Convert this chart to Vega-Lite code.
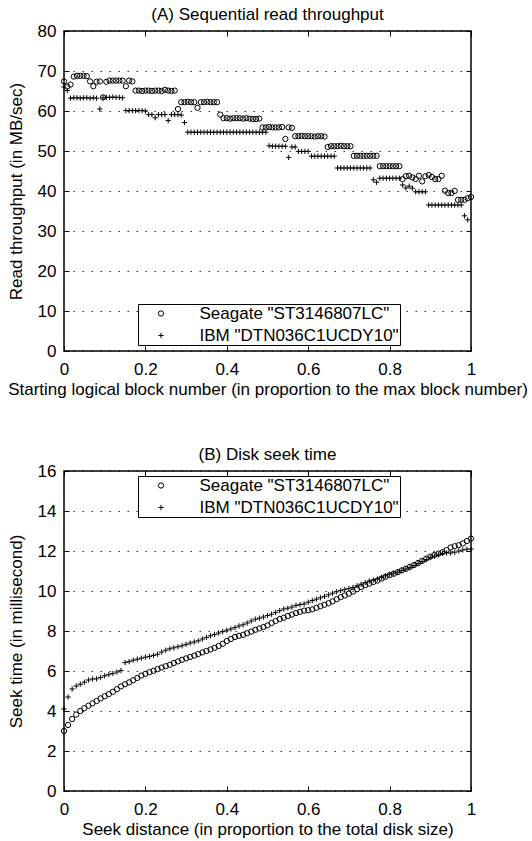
{
  "$schema": "https://vega.github.io/schema/vega-lite/v6.json",
  "background": "white",
  "padding": {"left": 6, "top": 5, "right": 0, "bottom": 0},
  "config": {
    "font": "Liberation Sans",
    "view": {"stroke": "black", "strokeWidth": 1.5},
    "axis": {
      "domain": false, "labelFontSize": 17, "titleFontSize": 17, "titleFontWeight": "normal",
      "labelColor": "black", "titleColor": "black", "tickColor": "black", "tickSize": -5, "tickWidth": 1,
      "labelPadding": 13, "grid": false, "gridColor": "black", "gridDash": [1.5, 7.5], "gridOpacity": 0.8, "labelFlush": false
    },
    "title": {"fontSize": 17, "fontWeight": "normal", "color": "black", "offset": -2, "frame": "group"},
    "legend": {
      "title": null, "orient": "none", "strokeColor": "black", "fillColor": "white", "padding": 1,
      "labelFont": "Liberation Sans", "labelFontSize": 17, "labelColor": "black", "labelLimit": 400, "symbolOffset": 13.5, "labelOffset": 30, "rowPadding": 4,
      "cornerRadius": 0, "symbolStrokeColor": "black", "symbolStrokeWidth": 1, "symbolSize": 28, "symbolFillColor": "transparent"
    }
  },
  "datasets": {
    "a": [
      {"d":"S","x":0,"y":67.4},{"d":"S","x":0.008,"y":66.1},{"d":"S","x":0.016,"y":66.6},{"d":"S","x":0.024,"y":68.6},{"d":"S","x":0.032,"y":68.8},{"d":"S","x":0.04,"y":68.8},{"d":"S","x":0.048,"y":68.8},{"d":"S","x":0.056,"y":68.7},{"d":"S","x":0.064,"y":67.4},{"d":"S","x":0.072,"y":66.2},{"d":"S","x":0.08,"y":67.3},{"d":"S","x":0.088,"y":67.4},{"d":"S","x":0.096,"y":63.4},{"d":"S","x":0.104,"y":67.3},{"d":"S","x":0.112,"y":67.6},{"d":"S","x":0.12,"y":67.6},{"d":"S","x":0.128,"y":67.6},{"d":"S","x":0.136,"y":67.6},{"d":"S","x":0.144,"y":67.6},{"d":"S","x":0.152,"y":66.2},{"d":"S","x":0.16,"y":67.6},{"d":"S","x":0.168,"y":67.4},{"d":"S","x":0.176,"y":65.1},{"d":"S","x":0.184,"y":65.1},{"d":"S","x":0.192,"y":65.0},{"d":"S","x":0.2,"y":65.1},{"d":"S","x":0.208,"y":65.1},{"d":"S","x":0.216,"y":65.0},{"d":"S","x":0.224,"y":65.1},{"d":"S","x":0.232,"y":65.1},{"d":"S","x":0.24,"y":65.0},{"d":"S","x":0.248,"y":65.3},{"d":"S","x":0.256,"y":65.1},{"d":"S","x":0.264,"y":65.0},{"d":"S","x":0.272,"y":65.1},{"d":"S","x":0.28,"y":60.5},{"d":"S","x":0.288,"y":62.2},{"d":"S","x":0.296,"y":62.2},{"d":"S","x":0.304,"y":62.3},{"d":"S","x":0.312,"y":62.2},{"d":"S","x":0.32,"y":62.2},{"d":"S","x":0.328,"y":60.8},{"d":"S","x":0.336,"y":62.2},{"d":"S","x":0.344,"y":62.2},{"d":"S","x":0.352,"y":62.3},{"d":"S","x":0.36,"y":62.2},{"d":"S","x":0.368,"y":62.2},{"d":"S","x":0.376,"y":62.2},{"d":"S","x":0.384,"y":59.1},{"d":"S","x":0.392,"y":58.2},{"d":"S","x":0.4,"y":58.2},{"d":"S","x":0.408,"y":58.1},{"d":"S","x":0.416,"y":58.2},{"d":"S","x":0.424,"y":58.2},{"d":"S","x":0.432,"y":58.2},{"d":"S","x":0.44,"y":58.1},{"d":"S","x":0.448,"y":58.2},{"d":"S","x":0.456,"y":58.1},{"d":"S","x":0.464,"y":58.0},{"d":"S","x":0.472,"y":58.0},{"d":"S","x":0.48,"y":58.1},{"d":"S","x":0.488,"y":55.9},{"d":"S","x":0.496,"y":55.9},{"d":"S","x":0.504,"y":56.0},{"d":"S","x":0.512,"y":55.9},{"d":"S","x":0.52,"y":55.9},{"d":"S","x":0.528,"y":55.9},{"d":"S","x":0.536,"y":56.0},{"d":"S","x":0.544,"y":53.0},{"d":"S","x":0.552,"y":55.9},{"d":"S","x":0.56,"y":55.8},{"d":"S","x":0.568,"y":53.7},{"d":"S","x":0.576,"y":53.7},{"d":"S","x":0.584,"y":53.8},{"d":"S","x":0.592,"y":53.7},{"d":"S","x":0.6,"y":53.7},{"d":"S","x":0.608,"y":53.7},{"d":"S","x":0.616,"y":53.6},{"d":"S","x":0.624,"y":53.7},{"d":"S","x":0.632,"y":53.7},{"d":"S","x":0.64,"y":53.6},{"d":"S","x":0.648,"y":51.0},{"d":"S","x":0.656,"y":51.2},{"d":"S","x":0.664,"y":51.2},{"d":"S","x":0.672,"y":51.2},{"d":"S","x":0.68,"y":51.3},{"d":"S","x":0.688,"y":51.2},{"d":"S","x":0.696,"y":51.2},{"d":"S","x":0.704,"y":51.2},{"d":"S","x":0.712,"y":48.8},{"d":"S","x":0.72,"y":48.8},{"d":"S","x":0.728,"y":48.8},{"d":"S","x":0.736,"y":48.8},{"d":"S","x":0.744,"y":48.8},{"d":"S","x":0.752,"y":48.8},{"d":"S","x":0.76,"y":48.8},{"d":"S","x":0.768,"y":48.8},{"d":"S","x":0.776,"y":46.2},{"d":"S","x":0.784,"y":46.2},{"d":"S","x":0.792,"y":46.2},{"d":"S","x":0.8,"y":46.2},{"d":"S","x":0.808,"y":46.2},{"d":"S","x":0.816,"y":46.2},{"d":"S","x":0.824,"y":46.2},{"d":"S","x":0.832,"y":43.0},{"d":"S","x":0.84,"y":43.7},{"d":"S","x":0.848,"y":43.8},{"d":"S","x":0.856,"y":43.4},{"d":"S","x":0.864,"y":43.0},{"d":"S","x":0.872,"y":43.8},{"d":"S","x":0.88,"y":42.4},{"d":"S","x":0.888,"y":43.7},{"d":"S","x":0.896,"y":44.0},{"d":"S","x":0.904,"y":43.5},{"d":"S","x":0.912,"y":43.0},{"d":"S","x":0.92,"y":43.0},{"d":"S","x":0.928,"y":43.8},{"d":"S","x":0.936,"y":40.1},{"d":"S","x":0.944,"y":39.5},{"d":"S","x":0.952,"y":39.5},{"d":"S","x":0.96,"y":40.0},{"d":"S","x":0.968,"y":37.8},{"d":"S","x":0.976,"y":37.8},{"d":"S","x":0.984,"y":37.8},{"d":"S","x":0.992,"y":38.2},{"d":"S","x":1,"y":38.5},
      {"d":"I","x":0,"y":66.0},{"d":"I","x":0.008,"y":65.1},{"d":"I","x":0.016,"y":63.2},{"d":"I","x":0.024,"y":63.3},{"d":"I","x":0.032,"y":63.3},{"d":"I","x":0.04,"y":63.2},{"d":"I","x":0.048,"y":63.3},{"d":"I","x":0.056,"y":63.3},{"d":"I","x":0.064,"y":63.2},{"d":"I","x":0.072,"y":63.3},{"d":"I","x":0.08,"y":63.2},{"d":"I","x":0.088,"y":60.5},{"d":"I","x":0.096,"y":63.3},{"d":"I","x":0.104,"y":63.4},{"d":"I","x":0.112,"y":63.4},{"d":"I","x":0.12,"y":63.5},{"d":"I","x":0.128,"y":63.4},{"d":"I","x":0.136,"y":63.4},{"d":"I","x":0.144,"y":63.3},{"d":"I","x":0.152,"y":60.1},{"d":"I","x":0.16,"y":60.1},{"d":"I","x":0.168,"y":60.1},{"d":"I","x":0.176,"y":60.1},{"d":"I","x":0.184,"y":60.1},{"d":"I","x":0.192,"y":60.1},{"d":"I","x":0.2,"y":60.0},{"d":"I","x":0.208,"y":59.1},{"d":"I","x":0.216,"y":59.1},{"d":"I","x":0.224,"y":58.3},{"d":"I","x":0.232,"y":59.1},{"d":"I","x":0.24,"y":59.1},{"d":"I","x":0.248,"y":59.1},{"d":"I","x":0.256,"y":57.6},{"d":"I","x":0.264,"y":59.1},{"d":"I","x":0.272,"y":59.1},{"d":"I","x":0.28,"y":59.1},{"d":"I","x":0.288,"y":59.0},{"d":"I","x":0.296,"y":57.1},{"d":"I","x":0.304,"y":54.7},{"d":"I","x":0.312,"y":54.7},{"d":"I","x":0.32,"y":54.7},{"d":"I","x":0.328,"y":54.7},{"d":"I","x":0.336,"y":54.7},{"d":"I","x":0.344,"y":54.7},{"d":"I","x":0.352,"y":54.7},{"d":"I","x":0.36,"y":54.7},{"d":"I","x":0.368,"y":54.7},{"d":"I","x":0.376,"y":54.7},{"d":"I","x":0.384,"y":54.7},{"d":"I","x":0.392,"y":54.7},{"d":"I","x":0.4,"y":54.7},{"d":"I","x":0.408,"y":54.7},{"d":"I","x":0.416,"y":54.7},{"d":"I","x":0.424,"y":54.7},{"d":"I","x":0.432,"y":54.7},{"d":"I","x":0.44,"y":54.7},{"d":"I","x":0.448,"y":54.7},{"d":"I","x":0.456,"y":54.7},{"d":"I","x":0.464,"y":54.7},{"d":"I","x":0.472,"y":54.7},{"d":"I","x":0.48,"y":54.7},{"d":"I","x":0.488,"y":54.7},{"d":"I","x":0.496,"y":54.7},{"d":"I","x":0.504,"y":51.3},{"d":"I","x":0.512,"y":51.2},{"d":"I","x":0.52,"y":51.2},{"d":"I","x":0.528,"y":51.2},{"d":"I","x":0.536,"y":51.2},{"d":"I","x":0.544,"y":51.2},{"d":"I","x":0.552,"y":48.4},{"d":"I","x":0.56,"y":51.0},{"d":"I","x":0.568,"y":51.0},{"d":"I","x":0.576,"y":49.9},{"d":"I","x":0.584,"y":49.9},{"d":"I","x":0.592,"y":49.9},{"d":"I","x":0.6,"y":49.9},{"d":"I","x":0.608,"y":48.7},{"d":"I","x":0.616,"y":48.7},{"d":"I","x":0.624,"y":48.7},{"d":"I","x":0.632,"y":48.7},{"d":"I","x":0.64,"y":48.7},{"d":"I","x":0.648,"y":48.7},{"d":"I","x":0.656,"y":48.7},{"d":"I","x":0.664,"y":48.7},{"d":"I","x":0.672,"y":45.75},{"d":"I","x":0.68,"y":45.75},{"d":"I","x":0.688,"y":45.75},{"d":"I","x":0.696,"y":45.75},{"d":"I","x":0.704,"y":45.75},{"d":"I","x":0.712,"y":45.75},{"d":"I","x":0.72,"y":45.75},{"d":"I","x":0.728,"y":45.75},{"d":"I","x":0.736,"y":45.75},{"d":"I","x":0.744,"y":45.75},{"d":"I","x":0.752,"y":45.75},{"d":"I","x":0.76,"y":42.8},{"d":"I","x":0.768,"y":42.2},{"d":"I","x":0.776,"y":43.2},{"d":"I","x":0.784,"y":43.2},{"d":"I","x":0.792,"y":43.2},{"d":"I","x":0.8,"y":43.2},{"d":"I","x":0.808,"y":43.2},{"d":"I","x":0.816,"y":43.2},{"d":"I","x":0.824,"y":43.2},{"d":"I","x":0.832,"y":41.5},{"d":"I","x":0.84,"y":40.75},{"d":"I","x":0.848,"y":41.2},{"d":"I","x":0.856,"y":40.7},{"d":"I","x":0.864,"y":39.8},{"d":"I","x":0.872,"y":39.8},{"d":"I","x":0.88,"y":39.8},{"d":"I","x":0.888,"y":39.8},{"d":"I","x":0.896,"y":36.5},{"d":"I","x":0.904,"y":36.5},{"d":"I","x":0.912,"y":36.5},{"d":"I","x":0.92,"y":36.5},{"d":"I","x":0.928,"y":36.5},{"d":"I","x":0.936,"y":36.5},{"d":"I","x":0.944,"y":36.5},{"d":"I","x":0.952,"y":36.5},{"d":"I","x":0.96,"y":36.5},{"d":"I","x":0.968,"y":36.5},{"d":"I","x":0.976,"y":36.5},{"d":"I","x":0.984,"y":33.8},{"d":"I","x":0.992,"y":32.8}
    ],
    "b": [
      {"d":"S","x":0,"y":3.0},{"d":"S","x":0.01,"y":3.3},{"d":"S","x":0.02,"y":3.6},{"d":"S","x":0.03,"y":3.82},{"d":"S","x":0.04,"y":4.0},{"d":"S","x":0.05,"y":4.14},{"d":"S","x":0.06,"y":4.26},{"d":"S","x":0.07,"y":4.38},{"d":"S","x":0.08,"y":4.5},{"d":"S","x":0.09,"y":4.63},{"d":"S","x":0.1,"y":4.74},{"d":"S","x":0.11,"y":4.84},{"d":"S","x":0.12,"y":4.96},{"d":"S","x":0.13,"y":5.09},{"d":"S","x":0.14,"y":5.23},{"d":"S","x":0.15,"y":5.34},{"d":"S","x":0.16,"y":5.43},{"d":"S","x":0.17,"y":5.54},{"d":"S","x":0.18,"y":5.65},{"d":"S","x":0.19,"y":5.77},{"d":"S","x":0.2,"y":5.86},{"d":"S","x":0.21,"y":5.94},{"d":"S","x":0.22,"y":6.01},{"d":"S","x":0.23,"y":6.09},{"d":"S","x":0.24,"y":6.17},{"d":"S","x":0.25,"y":6.24},{"d":"S","x":0.26,"y":6.31},{"d":"S","x":0.27,"y":6.4},{"d":"S","x":0.28,"y":6.48},{"d":"S","x":0.29,"y":6.56},{"d":"S","x":0.3,"y":6.63},{"d":"S","x":0.31,"y":6.7},{"d":"S","x":0.32,"y":6.77},{"d":"S","x":0.33,"y":6.85},{"d":"S","x":0.34,"y":6.93},{"d":"S","x":0.35,"y":7.0},{"d":"S","x":0.36,"y":7.08},{"d":"S","x":0.37,"y":7.16},{"d":"S","x":0.38,"y":7.25},{"d":"S","x":0.39,"y":7.36},{"d":"S","x":0.4,"y":7.5},{"d":"S","x":0.41,"y":7.6},{"d":"S","x":0.42,"y":7.7},{"d":"S","x":0.43,"y":7.76},{"d":"S","x":0.44,"y":7.81},{"d":"S","x":0.45,"y":7.89},{"d":"S","x":0.46,"y":7.97},{"d":"S","x":0.47,"y":8.06},{"d":"S","x":0.48,"y":8.13},{"d":"S","x":0.49,"y":8.2},{"d":"S","x":0.5,"y":8.28},{"d":"S","x":0.51,"y":8.4},{"d":"S","x":0.52,"y":8.5},{"d":"S","x":0.53,"y":8.6},{"d":"S","x":0.54,"y":8.66},{"d":"S","x":0.55,"y":8.75},{"d":"S","x":0.56,"y":8.82},{"d":"S","x":0.57,"y":8.9},{"d":"S","x":0.58,"y":8.96},{"d":"S","x":0.59,"y":9.02},{"d":"S","x":0.6,"y":9.04},{"d":"S","x":0.61,"y":9.08},{"d":"S","x":0.62,"y":9.16},{"d":"S","x":0.63,"y":9.24},{"d":"S","x":0.64,"y":9.31},{"d":"S","x":0.65,"y":9.39},{"d":"S","x":0.66,"y":9.48},{"d":"S","x":0.67,"y":9.59},{"d":"S","x":0.68,"y":9.69},{"d":"S","x":0.69,"y":9.78},{"d":"S","x":0.7,"y":9.87},{"d":"S","x":0.71,"y":9.97},{"d":"S","x":0.72,"y":10.09},{"d":"S","x":0.73,"y":10.2},{"d":"S","x":0.74,"y":10.29},{"d":"S","x":0.75,"y":10.37},{"d":"S","x":0.76,"y":10.45},{"d":"S","x":0.77,"y":10.52},{"d":"S","x":0.78,"y":10.62},{"d":"S","x":0.79,"y":10.71},{"d":"S","x":0.8,"y":10.79},{"d":"S","x":0.81,"y":10.86},{"d":"S","x":0.82,"y":10.94},{"d":"S","x":0.83,"y":11.03},{"d":"S","x":0.84,"y":11.11},{"d":"S","x":0.85,"y":11.21},{"d":"S","x":0.86,"y":11.3},{"d":"S","x":0.87,"y":11.4},{"d":"S","x":0.88,"y":11.51},{"d":"S","x":0.89,"y":11.62},{"d":"S","x":0.9,"y":11.72},{"d":"S","x":0.91,"y":11.8},{"d":"S","x":0.92,"y":11.87},{"d":"S","x":0.93,"y":11.94},{"d":"S","x":0.94,"y":12.05},{"d":"S","x":0.95,"y":12.18},{"d":"S","x":0.96,"y":12.24},{"d":"S","x":0.97,"y":12.29},{"d":"S","x":0.98,"y":12.38},{"d":"S","x":0.99,"y":12.5},{"d":"S","x":1,"y":12.62},
      {"d":"I","x":0,"y":4.1},{"d":"I","x":0.01,"y":4.7},{"d":"I","x":0.02,"y":5.1},{"d":"I","x":0.03,"y":5.25},{"d":"I","x":0.04,"y":5.34},{"d":"I","x":0.05,"y":5.44},{"d":"I","x":0.06,"y":5.55},{"d":"I","x":0.07,"y":5.6},{"d":"I","x":0.08,"y":5.61},{"d":"I","x":0.09,"y":5.68},{"d":"I","x":0.1,"y":5.76},{"d":"I","x":0.11,"y":5.82},{"d":"I","x":0.12,"y":5.88},{"d":"I","x":0.13,"y":5.95},{"d":"I","x":0.14,"y":6.02},{"d":"I","x":0.15,"y":6.42},{"d":"I","x":0.16,"y":6.47},{"d":"I","x":0.17,"y":6.54},{"d":"I","x":0.18,"y":6.59},{"d":"I","x":0.19,"y":6.64},{"d":"I","x":0.2,"y":6.69},{"d":"I","x":0.21,"y":6.73},{"d":"I","x":0.22,"y":6.78},{"d":"I","x":0.23,"y":6.84},{"d":"I","x":0.24,"y":6.95},{"d":"I","x":0.25,"y":7.04},{"d":"I","x":0.26,"y":7.11},{"d":"I","x":0.27,"y":7.16},{"d":"I","x":0.28,"y":7.21},{"d":"I","x":0.29,"y":7.26},{"d":"I","x":0.3,"y":7.33},{"d":"I","x":0.31,"y":7.4},{"d":"I","x":0.32,"y":7.45},{"d":"I","x":0.33,"y":7.51},{"d":"I","x":0.34,"y":7.6},{"d":"I","x":0.35,"y":7.68},{"d":"I","x":0.36,"y":7.76},{"d":"I","x":0.37,"y":7.83},{"d":"I","x":0.38,"y":7.9},{"d":"I","x":0.39,"y":7.97},{"d":"I","x":0.4,"y":8.04},{"d":"I","x":0.41,"y":8.1},{"d":"I","x":0.42,"y":8.17},{"d":"I","x":0.43,"y":8.25},{"d":"I","x":0.44,"y":8.31},{"d":"I","x":0.45,"y":8.4},{"d":"I","x":0.46,"y":8.5},{"d":"I","x":0.47,"y":8.59},{"d":"I","x":0.48,"y":8.64},{"d":"I","x":0.49,"y":8.7},{"d":"I","x":0.5,"y":8.77},{"d":"I","x":0.51,"y":8.84},{"d":"I","x":0.52,"y":8.93},{"d":"I","x":0.53,"y":9.02},{"d":"I","x":0.54,"y":9.1},{"d":"I","x":0.55,"y":9.14},{"d":"I","x":0.56,"y":9.2},{"d":"I","x":0.57,"y":9.28},{"d":"I","x":0.58,"y":9.32},{"d":"I","x":0.59,"y":9.35},{"d":"I","x":0.6,"y":9.44},{"d":"I","x":0.61,"y":9.52},{"d":"I","x":0.62,"y":9.59},{"d":"I","x":0.63,"y":9.66},{"d":"I","x":0.64,"y":9.73},{"d":"I","x":0.65,"y":9.81},{"d":"I","x":0.66,"y":9.89},{"d":"I","x":0.67,"y":9.96},{"d":"I","x":0.68,"y":10.02},{"d":"I","x":0.69,"y":10.08},{"d":"I","x":0.7,"y":10.12},{"d":"I","x":0.71,"y":10.18},{"d":"I","x":0.72,"y":10.26},{"d":"I","x":0.73,"y":10.34},{"d":"I","x":0.74,"y":10.42},{"d":"I","x":0.75,"y":10.5},{"d":"I","x":0.76,"y":10.55},{"d":"I","x":0.77,"y":10.6},{"d":"I","x":0.78,"y":10.68},{"d":"I","x":0.79,"y":10.76},{"d":"I","x":0.8,"y":10.84},{"d":"I","x":0.81,"y":10.89},{"d":"I","x":0.82,"y":10.94},{"d":"I","x":0.83,"y":11.03},{"d":"I","x":0.84,"y":11.1},{"d":"I","x":0.85,"y":11.17},{"d":"I","x":0.86,"y":11.27},{"d":"I","x":0.87,"y":11.38},{"d":"I","x":0.88,"y":11.48},{"d":"I","x":0.89,"y":11.57},{"d":"I","x":0.9,"y":11.67},{"d":"I","x":0.91,"y":11.75},{"d":"I","x":0.92,"y":11.81},{"d":"I","x":0.93,"y":11.88},{"d":"I","x":0.94,"y":11.9},{"d":"I","x":0.95,"y":11.9},{"d":"I","x":0.96,"y":11.94},{"d":"I","x":0.97,"y":12.0},{"d":"I","x":0.98,"y":12.05},{"d":"I","x":0.99,"y":12.09},{"d":"I","x":1,"y":12.1}
    ]
  },
  "vconcat": [
    {
      "title": {"text": "(A) Sequential read throughput"},
      "width": 407, "height": 320,
      "data": {"name": "a"},
      "layer": [
        {
          "mark": {"type": "point", "filled": false, "opacity": 1, "strokeWidth": 1, "color": "black", "size": 28},
          "encoding": {
            "x": {"field": "x", "type": "quantitative", "scale": {"domain": [0, 1], "nice": false},
                  "axis": {"orient": "bottom", "values": [0, 0.2, 0.4, 0.6, 0.8, 1], "format": "~g", "labelPadding": 15, "titlePadding": 4,
                           "title": "Starting logical block number (in proportion to the max block number)"}},
            "y": {"field": "y", "type": "quantitative", "scale": {"domain": [0, 80], "nice": false},
                  "axis": {"orient": "left", "values": [0, 10, 20, 30, 40, 50, 60, 70, 80], "grid": true, "titlePadding": 12,
                           "title": "Read throughput (in MB/sec)"}},
            "shape": {"field": "d", "type": "nominal", "scale": {"domain": ["S", "I"], "range": ["circle", "M-1,0H1M0,-1V1"]},
                      "legend": {"legendX": 74, "legendY": 273,
                                 "labelExpr": "datum.value == 'S' ? 'Seagate \"ST3146807LC\" ' : 'IBM \"DTN036C1UCDY10\" '"}}
          }
        },
        {
          "mark": {"type": "point", "opacity": 0},
          "encoding": {
            "x": {"field": "x", "type": "quantitative", "axis": {"orient": "top", "labels": false, "title": null, "values": [0, 0.2, 0.4, 0.6, 0.8, 1]}},
            "y": {"field": "y", "type": "quantitative", "axis": {"orient": "right", "labels": false, "title": null, "grid": false, "values": [0, 10, 20, 30, 40, 50, 60, 70, 80]}}
          }
        }
      ]
    },
    {
      "title": {"text": "(B) Disk seek time"},
      "width": 407, "height": 320,
      "data": {"name": "b"},
      "layer": [
        {
          "mark": {"type": "point", "filled": false, "opacity": 1, "strokeWidth": 1, "color": "black", "size": 28},
          "encoding": {
            "x": {"field": "x", "type": "quantitative", "scale": {"domain": [0, 1], "nice": false},
                  "axis": {"orient": "bottom", "values": [0, 0.2, 0.4, 0.6, 0.8, 1], "format": "~g", "labelPadding": 15, "titlePadding": 4,
                           "title": "Seek distance (in proportion to the total disk size)"}},
            "y": {"field": "y", "type": "quantitative", "scale": {"domain": [0, 16], "nice": false},
                  "axis": {"orient": "left", "values": [0, 2, 4, 6, 8, 10, 12, 14, 16], "grid": true, "titlePadding": 12,
                           "title": "Seek time (in millisecond)"}},
            "shape": {"field": "d", "type": "nominal", "scale": {"domain": ["S", "I"], "range": ["circle", "M-1,0H1M0,-1V1"]},
                      "legend": {"legendX": 74, "legendY": 5,
                                 "labelExpr": "datum.value == 'S' ? 'Seagate \"ST3146807LC\" ' : 'IBM \"DTN036C1UCDY10\" '"}}
          }
        },
        {
          "mark": {"type": "point", "opacity": 0},
          "encoding": {
            "x": {"field": "x", "type": "quantitative", "axis": {"orient": "top", "labels": false, "title": null, "values": [0, 0.2, 0.4, 0.6, 0.8, 1]}},
            "y": {"field": "y", "type": "quantitative", "axis": {"orient": "right", "labels": false, "title": null, "grid": false, "values": [0, 2, 4, 6, 8, 10, 12, 14, 16]}}
          }
        }
      ]
    }
  ],
  "spacing": 120,
  "bounds": "flush",
  "resolve": {"scale": {"shape": "independent"}, "legend": {"shape": "independent"}}
}
